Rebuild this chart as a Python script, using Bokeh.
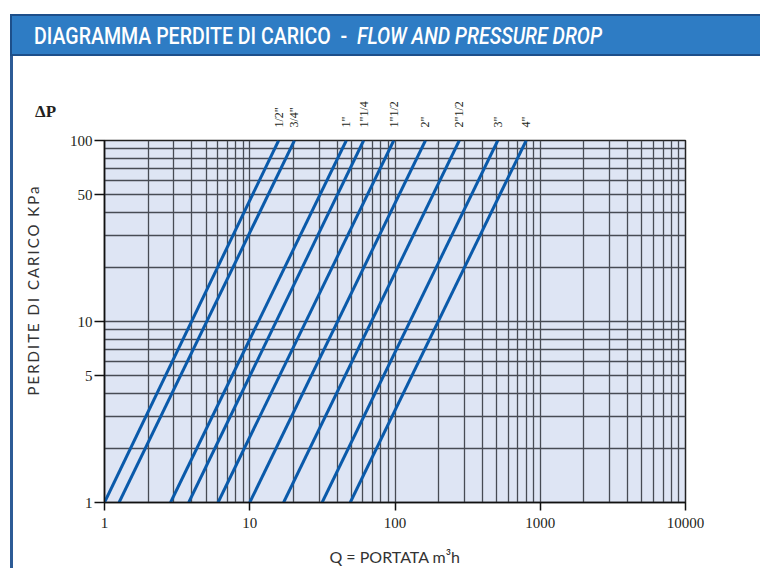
import math
from bokeh.plotting import figure
from bokeh.models import (ColumnDataSource, FixedTicker, PrintfTickFormatter,
                          Div, Spacer, LogAxis, CustomJSTickFormatter)
from bokeh.layouts import column, row
from bokeh.embed import file_html
from bokeh.resources import INLINE

# ---- data ----
sizes = ['1/2"', '3/4"', '1"', '1"1/4', '1"1/2', '2"', '2"1/2', '3"', '4"']
q_at_1kpa = [1.0, 1.26, 2.85, 3.8, 6.05, 10.0, 17.1, 31.5, 49.2]          # flow at 1 kPa
q_at_100kpa = [15.8, 20.3, 46.2, 60.8, 98.0, 162.0, 277.0, 510.0, 800.0]  # flow at 100 kPa
dp_low = 1
dp_high = 100
x_ticks = [1, 10, 100, 1000, 10000]
y_ticks = [1, 5, 10, 50, 100]
grid_x = [m * 10 ** e for e in range(4) for m in range(1, 10)] + [10000]
grid_y = [m * 10 ** e for e in range(2) for m in range(1, 10)] + [100]

title_main = "DIAGRAMMA PERDITE DI CARICO"
title_en = "FLOW AND PRESSURE DROP"
y_label = "PERDITE DI CARICO KPa"
x_label = "Q = PORTATA m³h"
dp_symbol = "ΔP"

LINE_BLUE = "#0a5aaa"
SERIF = "Liberation Serif"
FIG_H = 512

p = figure(width=700, height=FIG_H, x_axis_type="log", y_axis_type="log",
           x_range=(1, 10000), y_range=(1, 100),
           output_backend="svg", toolbar_location=None,
           min_border_left=44, min_border_right=75,
           min_border_top=84, min_border_bottom=65, margin=0)

p.background_fill_color = "#dee5f4"
p.border_fill_color = "white"
p.outline_line_color = "#222222"
p.outline_line_width = 1.5

# grid
p.xgrid.ticker = FixedTicker(ticks=grid_x)
p.ygrid.ticker = FixedTicker(ticks=grid_y)
for g in (p.xgrid, p.ygrid):
    g.grid_line_color = "#474b54"
    g.grid_line_width = 1.3
    g.grid_line_alpha = 1.0

# axes
p.xaxis.ticker = FixedTicker(ticks=x_ticks)
p.yaxis.ticker = FixedTicker(ticks=y_ticks)
for ax in (p.xaxis, p.yaxis):
    ax.formatter = PrintfTickFormatter(format="%d")
    ax.axis_line_color = "#111111"
    ax.axis_line_width = 1.5
    ax.major_tick_line_color = "#111111"
    ax.major_tick_line_width = 1.5
    ax.major_tick_in = 0
    ax.minor_tick_in = 0
    ax.minor_tick_out = 0
    ax.major_label_text_font = SERIF
    ax.major_label_text_font_size = "15px"
    ax.major_label_text_color = "#231f20"
p.xaxis.major_tick_out = 8
p.yaxis.major_tick_out = 10
p.xaxis.major_label_standoff = 7
p.yaxis.major_label_standoff = 2

p.xaxis.axis_label = x_label
p.xaxis.axis_label_text_font = "Lato"
p.xaxis.axis_label_text_font_style = "normal"
p.xaxis.axis_label_text_font_size = "16px"
p.xaxis.axis_label_text_color = "#333333"
p.xaxis.axis_label_standoff = 16

# size labels on an axis above the frame, at the tops of the lines
top_axis = LogAxis(ticker=FixedTicker(ticks=q_at_100kpa),
                   formatter=CustomJSTickFormatter(args=dict(names=sizes),
                                                   code="return names[index];"),
                   major_label_orientation=math.pi / 2,
                   axis_line_color=None, major_tick_line_color=None,
                   minor_tick_line_color=None, major_tick_out=0, major_tick_in=0,
                   major_label_standoff=13, major_label_text_font=SERIF,
                   major_label_text_font_size="12px", major_label_text_color="#231f20")
p.add_layout(top_axis, "above")

# lines
src = ColumnDataSource(dict(
    xs=[[a, b] for a, b in zip(q_at_1kpa, q_at_100kpa)],
    ys=[[dp_low, dp_high] for _ in sizes],
))
p.multi_line(xs="xs", ys="ys", source=src, line_color=LINE_BLUE, line_width=3)

# header bar
title = Div(text=('<span style="display:inline-block;transform:scaleX(0.815);'
                  'transform-origin:left center;white-space:nowrap">'
                  f'{title_main} &nbsp;-&nbsp; <i>{title_en}</i></span>'),
            width=750, height=42, margin=0,
            styles={"background-color": "#2e7cc4", "color": "white",
                    "font-family": "Roboto, sans-serif", "font-size": "24px",
                    "font-weight": "500",
                    "line-height": "41px", "padding-left": "22px",
                    "box-sizing": "border-box", "overflow": "hidden",
                    "border-top": "2px solid #1d4f8a",
                    "border-bottom": "2px solid #1d4f8a",
                    "border-left": "2px solid #1d4f8a"})

# left strip with the Delta-P symbol and the vertical axis title
left_html = (
    f'<div style="position:relative;width:47px;height:{FIG_H}px;">'
    '<span style="position:absolute;left:22px;top:47px;font-family:\'Liberation Serif\',serif;'
    f'font-weight:bold;font-size:17px;line-height:1;color:#231f20">{dp_symbol}</span>'
    '<span style="position:absolute;left:19.5px;top:234px;'
    'transform:translate(-50%,-50%) rotate(-90deg);white-space:nowrap;'
    'font-family:Lato,sans-serif;font-size:15px;letter-spacing:2px;line-height:1;'
    f'color:#333333">{y_label}</span>'
    '</div>')
left = Div(text=left_html, width=47, height=FIG_H, margin=0)
edge = Div(text="", width=3, height=FIG_H, margin=0,
           styles={"background-color": "#2d5b96"})

layout = column(
    Spacer(width=760, height=14, margin=0),
    row(Spacer(width=10, height=42, margin=0), title, spacing=0, margin=0),
    row(Spacer(width=10, height=FIG_H, margin=0), edge, left, p, spacing=0, margin=0),
    spacing=0, margin=0)

open("out.html", "w").write(file_html(layout, INLINE))
